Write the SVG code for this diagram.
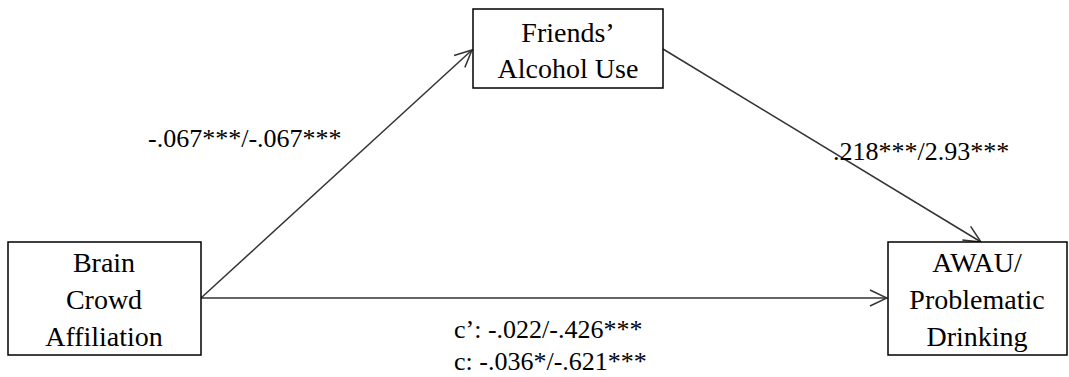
<svg xmlns="http://www.w3.org/2000/svg" width="1069" height="377" viewBox="0 0 1069 377">
<defs>
<style>
.box{fill:#fff;stroke:#000;stroke-width:1.5}
.t{font-size:28px;fill:#000;text-anchor:middle}
.l{font-size:26px;fill:#000}
.c{stroke:#333;stroke-width:1.5;fill:none}
</style>
<marker id="ah" viewBox="0 0 20 20" refX="19" refY="10" markerWidth="20" markerHeight="20" markerUnits="userSpaceOnUse" orient="auto">
<path d="M2,2 L19,10 L2,18" fill="none" stroke="#333" stroke-width="1.5"/>
</marker>
</defs>
<rect width="1069" height="377" fill="#fff"/>
<g id="connectors">
<line class="c" x1="201" y1="298" x2="472" y2="50" marker-end="url(#ah)"/>
<line class="c" x1="201" y1="298" x2="887" y2="298" marker-end="url(#ah)"/>
<line class="c" x1="663" y1="49" x2="981" y2="242" marker-end="url(#ah)"/>
</g>
<g font-family="Liberation Serif, Times New Roman, DejaVu Serif, serif">
<g id="friends">
<rect class="box" x="473" y="9" width="190" height="79"/>
<text class="t" x="568" y="42">Friends’</text>
<text class="t" x="568" y="78">Alcohol Use</text>
</g>
<g id="brain">
<rect class="box" x="8" y="242" width="193" height="113"/>
<text class="t" x="104" y="272">Brain</text>
<text class="t" x="104" y="309">Crowd</text>
<text class="t" x="104" y="346">Affiliation</text>
</g>
<g id="awau">
<rect class="box" x="888" y="242" width="179" height="113"/>
<text class="t" x="977" y="272">AWAU/</text>
<text class="t" x="977" y="309">Problematic</text>
<text class="t" x="977" y="346">Drinking</text>
</g>
<g id="labels">
<text class="l" x="148" y="147">-.067***/-.067***</text>
<text class="l" x="833" y="160">.218***/2.93***</text>
<text class="l" x="454" y="338">c’: -.022/-.426***</text>
<text class="l" x="454" y="370">c: -.036*/-.621***</text>
</g>
</g>
</svg>
